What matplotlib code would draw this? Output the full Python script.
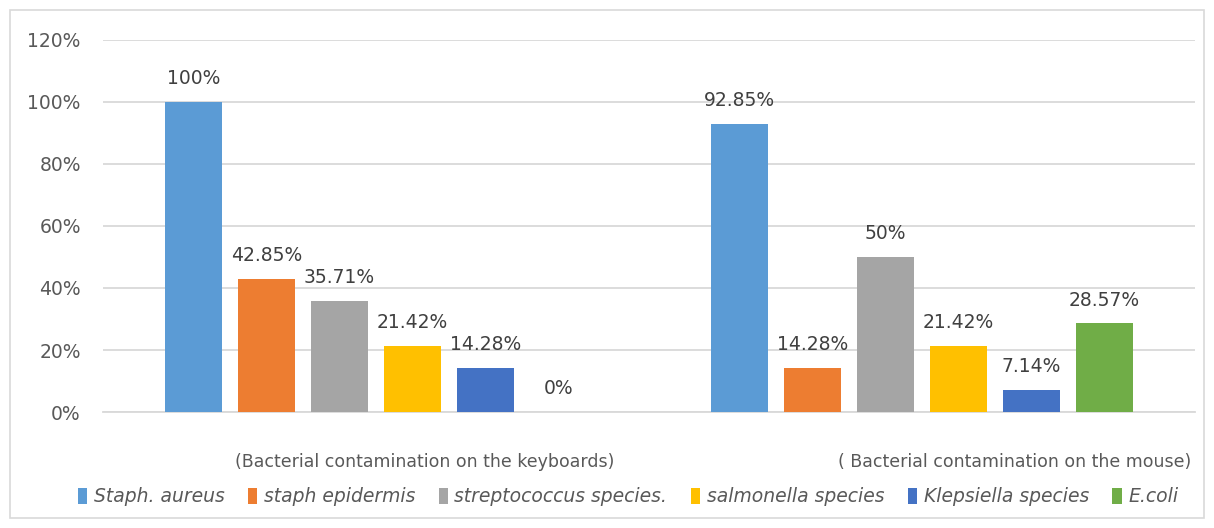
import matplotlib.pyplot as plt
from matplotlib.patches import Rectangle
from matplotlib.ticker import FuncFormatter

# groups and series
groups = ["(Bacterial contamination on the keyboards)", "( Bacterial contamination on the mouse)"]
bacteria = ["Staph. aureus", "staph epidermis", "streptococcus species.",
            "salmonella species", "Klepsiella species", "E.coli"]
staph_aureus = [100, 92.85]
staph_epidermis = [42.85, 14.28]
streptococcus = [35.71, 50]
salmonella = [21.42, 21.42]
klepsiella = [14.28, 7.14]
e_coli = [0, 28.57]
series = [staph_aureus, staph_epidermis, streptococcus, salmonella, klepsiella, e_coli]
colors = ["#5B9BD5", "#ED7D31", "#A5A5A5", "#FFC000", "#4472C4", "#70AD47"]
yticks = [0, 20, 40, 60, 80, 100, 120]

txt = "#595959"
fig = plt.figure(figsize=(12.14, 5.28), dpi=100)
fig.patches.append(Rectangle((10 / 1214, 10 / 528), 1194 / 1214, 508 / 528,
                             transform=fig.transFigure, fill=False,
                             edgecolor="#D9D9D9", linewidth=1.2))
ax = fig.add_axes([103 / 1214, 1 - 412 / 528, 1092 / 1214, 372 / 528])

step = 73 / 546
width = 57 / 546
for i, (vals, name, col) in enumerate(zip(series, bacteria, colors)):
    xs = [g + (i - 2.5) * step for g in range(len(groups))]
    bars = ax.bar(xs, vals, width, color=col, label=name, zorder=3)
    for b, v in zip(bars, vals):
        ax.annotate("{:g}%".format(v), (b.get_x() + b.get_width() / 2, v),
                    xytext=(0, 10), textcoords="offset points",
                    ha="center", va="bottom", fontsize=13.5, color="#404040")

ax.set_xlim(-0.5, 1.5)
ax.set_ylim(0, 120)
ax.set_yticks(yticks)
ax.yaxis.set_major_formatter(FuncFormatter(lambda v, p: "{:g}%".format(v)))
ax.tick_params(axis="y", length=0, labelsize=13.5, labelcolor=txt, pad=16)
ax.set_xticks([])
ax.grid(axis="y", color="#D9D9D9", linewidth=1.3, zorder=0)
for s in ["top", "right", "left"]:
    ax.spines[s].set_visible(False)
ax.spines["bottom"].set_color("#D9D9D9")
ax.spines["bottom"].set_linewidth(1.3)

# category labels sit a little right of the group centres, as in the picture
label_x = [425 / 1214, 1015 / 1214]
for g, lx in zip(groups, label_x):
    fig.text(lx, 1 - 462 / 528, g, ha="center", va="center", fontsize=12.5, color=txt)

leg = fig.legend(loc="center", bbox_to_anchor=(628 / 1214, 1 - 497 / 528), ncol=6,
                 frameon=False, handlelength=0.5, handleheight=1.0,
                 handletextpad=0.35, columnspacing=1.25,
                 prop={"size": 13.5, "style": "italic"})
for t in leg.get_texts():
    t.set_color(txt)

fig.savefig("out.png", dpi=100)
